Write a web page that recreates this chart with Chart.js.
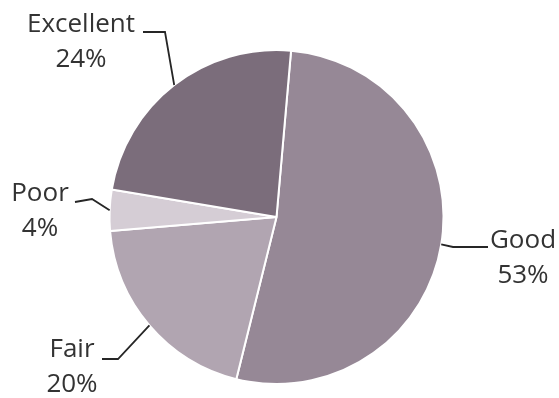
<!DOCTYPE html>
<html>
<head>
<meta charset="utf-8">
<script src="https://cdn.jsdelivr.net/npm/chart.js@4.4.1/dist/chart.umd.min.js"></script>
<style>
  html, body { margin: 0; padding: 0; background: #ffffff; }
  #wrap { width: 559px; height: 398px; }
</style>
</head>
<body>
<div id="wrap"><canvas id="c" width="559" height="398"></canvas></div>
<script>
// Data
const categories = ["Good", "Fair", "Poor", "Excellent"];
const percentages = [53, 20, 4, 24];
const sliceColors = ["#968896", "#b1a5b1", "#d5cdd5", "#7b6d7b"];

// Label placement (layout only)
const labelLayout = {
  Good:      { x: 523, y: 248, elbow: [453, 247], end: [488, 247] },
  Fair:      { x: 72,  y: 357, elbow: [118, 359], end: [102, 359] },
  Poor:      { x: 40,  y: 201, elbow: [92, 199],  end: [75, 202] },
  Excellent: { x: 81,  y: 32,  elbow: [165, 32],  end: [143, 32] }
};

const labelPlugin = {
  id: "pieLabels",
  afterDatasetsDraw(chart) {
    const ctx = chart.ctx;
    const meta = chart.getDatasetMeta(0);
    ctx.save();
    meta.data.forEach((arc, i) => {
      const name = categories[i];
      const lay = labelLayout[name];
      const p = arc.getProps(["x", "y", "startAngle", "endAngle", "outerRadius"], true);
      const mid = (p.startAngle + p.endAngle) / 2;
      const ex = p.x + Math.cos(mid) * p.outerRadius;
      const ey = p.y + Math.sin(mid) * p.outerRadius;
      ctx.strokeStyle = "#262626";
      ctx.lineWidth = 1.8;
      ctx.beginPath();
      ctx.moveTo(ex, ey);
      ctx.lineTo(lay.elbow[0], lay.elbow[1]);
      ctx.lineTo(lay.end[0], lay.end[1]);
      ctx.stroke();
      ctx.fillStyle = "#333333";
      ctx.font = "26px 'Open Sans'";
      ctx.textAlign = "center";
      ctx.textBaseline = "alphabetic";
      ctx.fillText(name, lay.x, lay.y);
      ctx.fillText(percentages[i] + "%", lay.x, lay.y + 35);
    });
    ctx.restore();
  }
};

new Chart(document.getElementById("c"), {
  type: "pie",
  data: {
    labels: categories,
    datasets: [{
      data: percentages,
      backgroundColor: sliceColors,
      borderColor: "#ffffff",
      borderWidth: 2
    }]
  },
  options: {
    responsive: false,
    animation: false,
    rotation: 5,
    layout: { padding: { top: 49, bottom: 13, left: 101, right: 107 } },
    plugins: {
      legend: { display: false },
      tooltip: { enabled: false }
    }
  },
  plugins: [labelPlugin]
});
</script>
</body>
</html>
